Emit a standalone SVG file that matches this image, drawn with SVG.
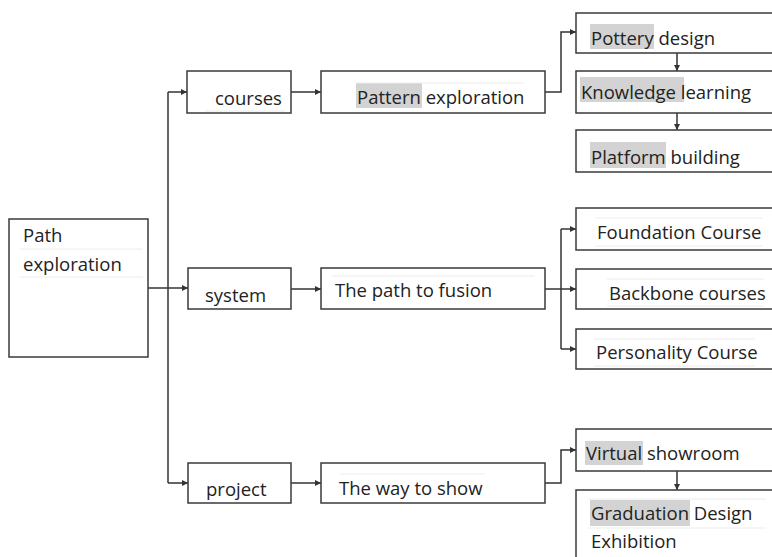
<svg xmlns="http://www.w3.org/2000/svg" width="772" height="557" viewBox="0 0 772 557">
<defs>
<marker id="ah" viewBox="0 0 6 6" refX="6" refY="3" markerWidth="6" markerHeight="6" markerUnits="userSpaceOnUse" orient="auto">
<path d="M0,0 L6,3 L0,6 Z" fill="#333"/>
</marker>
</defs>
<style>
.box{fill:#fff;stroke:#3a3a3a;stroke-width:1.5}
.t{font-family:"Open Sans","Noto Sans",sans-serif;font-size:18.5px;fill:#222}
.hl{fill:#d3d3d3}
.c{fill:none;stroke:#333;stroke-width:1.5}
.ca{fill:none;stroke:#333;stroke-width:1.5;marker-end:url(#ah)}
.f{stroke:#ececec;stroke-width:1}
</style>
<rect width="772" height="557" fill="#fff"/>
<g id="connectors">
<path class="c" d="M148,288 H168"/>
<path class="c" d="M168,92 V483"/>
<path class="ca" d="M168,92 H187"/>
<path class="ca" d="M168,288 H188"/>
<path class="ca" d="M168,483 H188"/>
<path class="ca" d="M291,92 H321"/>
<path class="ca" d="M291,289 H321"/>
<path class="ca" d="M291,483 H321"/>
<path class="ca" d="M545,92 H561 V32 H576"/>
<path class="c" d="M545,289 H561"/>
<path class="c" d="M561,229 V349"/>
<path class="ca" d="M561,229 H576"/>
<path class="ca" d="M561,289 H576"/>
<path class="ca" d="M561,349 H576"/>
<path class="ca" d="M545,483 H561 V450 H576"/>
<path class="ca" d="M677,53 V71"/>
<path class="ca" d="M677,113 V130"/>
<path class="ca" d="M677,471 V490"/>
</g>
<g id="n-path">
<rect class="box" x="9" y="219" width="139" height="138"/>
<line class="f" x1="20" y1="249" x2="143" y2="249"/>
<line class="f" x1="20" y1="277" x2="143" y2="277"/>
<text class="t" x="23" y="242">Path</text>
<text class="t" x="23" y="271">exploration</text>
</g>
<g id="n-courses">
<rect class="box" x="187" y="71" width="104" height="42"/>
<line class="f" x1="205" y1="111" x2="285" y2="111"/>
<text class="t" x="215" y="105">courses</text>
</g>
<g id="n-system">
<rect class="box" x="188" y="268" width="103" height="41"/>
<text class="t" x="205" y="302">system</text>
</g>
<g id="n-project">
<rect class="box" x="188" y="463" width="103" height="40"/>
<text class="t" x="206" y="496">project</text>
</g>
<g id="n-pattern">
<rect class="box" x="321" y="71" width="224" height="42"/>
<rect class="hl" x="356" y="83" width="66" height="25"/>
<line class="f" x1="356" y1="83" x2="524" y2="83"/>
<text class="t" x="357" y="104">Pattern exploration</text>
</g>
<g id="n-fusion">
<rect class="box" x="321" y="268" width="224" height="41"/>
<line class="f" x1="332" y1="276" x2="535" y2="276"/>
<text class="t" x="335" y="297">The path to fusion</text>
</g>
<g id="n-way">
<rect class="box" x="321" y="463" width="224" height="40"/>
<line class="f" x1="340" y1="474" x2="485" y2="474"/>
<text class="t" x="339" y="495">The way to show</text>
</g>
<g id="n-pottery">
<rect class="box" x="576" y="13" width="200" height="40"/>
<rect class="hl" x="590" y="24" width="64" height="25"/>
<text class="t" x="591" y="45">Pottery design</text>
</g>
<g id="n-knowledge">
<rect class="box" x="576" y="71" width="200" height="42"/>
<rect class="hl" x="580" y="77" width="104" height="25"/>
<text class="t" x="581" y="99">Knowledge learning</text>
</g>
<g id="n-platform">
<rect class="box" x="576" y="130" width="200" height="42"/>
<rect class="hl" x="590" y="142" width="76" height="26"/>
<text class="t" x="591" y="164">Platform building</text>
</g>
<g id="n-foundation">
<rect class="box" x="576" y="208" width="200" height="42"/>
<line class="f" x1="595" y1="218" x2="762" y2="218"/>
<line class="f" x1="595" y1="246" x2="762" y2="246"/>
<text class="t" x="597" y="239">Foundation Course</text>
</g>
<g id="n-backbone">
<rect class="box" x="576" y="269" width="200" height="40"/>
<line class="f" x1="607" y1="279" x2="764" y2="279"/>
<line class="f" x1="607" y1="306" x2="764" y2="306"/>
<text class="t" x="609" y="300">Backbone courses</text>
</g>
<g id="n-personality">
<rect class="box" x="576" y="329" width="200" height="40"/>
<line class="f" x1="594" y1="339" x2="755" y2="339"/>
<line class="f" x1="594" y1="366" x2="755" y2="366"/>
<text class="t" x="596" y="359">Personality Course</text>
</g>
<g id="n-virtual">
<rect class="box" x="576" y="429" width="200" height="42"/>
<rect class="hl" x="585" y="441" width="58" height="24"/>
<text class="t" x="586" y="460">Virtual showroom</text>
</g>
<g id="n-graduation">
<rect class="box" x="576" y="490" width="200" height="80"/>
<line class="f" x1="588" y1="499" x2="766" y2="499"/>
<line class="f" x1="588" y1="528" x2="766" y2="528"/>
<rect class="hl" x="590" y="500" width="100" height="26"/>
<text class="t" x="591" y="520">Graduation Design</text>
<text class="t" x="591" y="548">Exhibition</text>
</g>
</svg>
